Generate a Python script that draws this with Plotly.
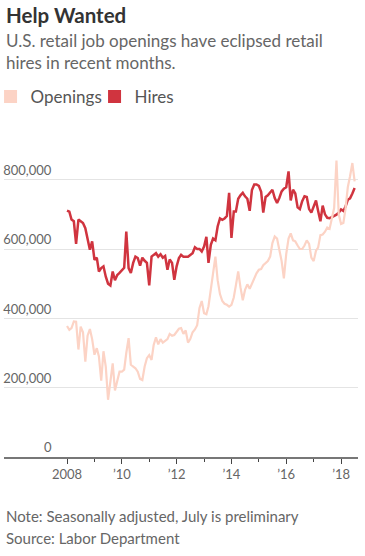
import pandas as pd
import plotly.graph_objects as go

# Monthly data, Jan 2008 - Jul 2018 (thousands)
start_month = "2008-01-01"

hires_k = [
    711, 708, 685, 680, 615, 685, 680, 675, 660, 630, 598, 622,
    569, 575, 535, 545, 550, 520, 500, 495, 535, 510, 525, 531,
    540, 546, 650, 545, 531, 560, 578, 574, 552, 575, 566, 560,
    495, 578, 583, 588, 578, 585, 575, 580, 540, 570, 560, 511,
    550, 574, 583, 578, 578, 578, 583, 588, 605, 600, 600, 593,
    607, 635, 560, 612, 630, 625, 665, 688, 684, 688, 695, 762,
    632, 708, 708, 745, 755, 762, 752, 745, 710, 770, 786, 786,
    782, 765, 705, 750, 755, 762, 771, 747, 733, 747, 766, 774,
    778, 824, 740, 771, 760, 720, 715, 738, 752, 750, 715, 705,
    720, 740, 710, 680, 725, 700, 690, 689, 692, 695, 699, 705,
    714, 710, 722, 742, 746, 760, 776,
]

openings_k = [
    378, 367, 372, 391, 390, 310, 376, 360, 275, 350, 369, 340,
    295, 314, 290, 220, 305, 260, 165, 220, 270, 192, 222, 246,
    246, 252, 300, 343, 266, 261, 256, 246, 225, 222, 261, 285,
    294, 280, 323, 345, 325, 340, 330, 335, 340, 355, 350, 352,
    360, 370, 372, 355, 365, 330, 340, 360, 368, 380, 430, 450,
    415, 412, 435, 480, 521, 578, 510, 470, 450, 442, 439, 434,
    439, 460, 495, 535, 490, 452, 482, 498, 485, 500, 518, 530,
    540, 542, 553, 558, 565, 578, 617, 636, 630, 598, 565, 515,
    585, 630, 645, 625, 622, 610, 600, 600, 610, 625, 615, 575,
    565, 595, 604, 640, 642, 650, 662, 658, 685, 718, 855, 700,
    672, 675, 715, 778, 810, 848, 795,
]

tick_years = ["2008-01-01", "2010-01-01", "2012-01-01", "2014-01-01", "2016-01-01", "2018-01-01"]
tick_labels = ["2008", "\u201910", "\u201912", "\u201914", "\u201916", "\u201918"]
minor_years = ["2009-01-01", "2011-01-01", "2013-01-01", "2015-01-01", "2017-01-01"]
y_ticks = [0, 200000, 400000, 600000, 800000]
y_labels = ["0", "200,000", "400,000", "600,000", "800,000"]

dates = pd.date_range(start_month, periods=len(hires_k), freq="MS")
hires = [v * 1000 for v in hires_k]
openings = [v * 1000 for v in openings_k]

RED = "#d0343f"
PINK = "#fcd3c5"
FONT = "Lato"

fig = go.Figure()
fig.add_trace(go.Scatter(x=dates, y=hires, mode="lines", name="Hires",
                         line=dict(color=RED, width=2.5), showlegend=False,
                         yaxis="y"))
fig.add_trace(go.Scatter(x=dates, y=openings, mode="lines", name="Openings",
                         line=dict(color=PINK, width=2.2), showlegend=False,
                         yaxis="y2"))
# legend swatches
fig.add_trace(go.Scatter(x=[None], y=[None], mode="markers", name="Openings",
                         marker=dict(symbol="square", size=13, color=PINK),
                         showlegend=True))
fig.add_trace(go.Scatter(x=[None], y=[None], mode="markers", name="Hires",
                         marker=dict(symbol="square", size=13, color=RED),
                         showlegend=True))

H_TOP, H_BOT = 145, 457
ph = H_BOT - H_TOP


def py(p):
    return (H_BOT - p) / ph


fig.update_layout(
    width=365, height=556, autosize=False,
    margin=dict(l=4, r=7, t=H_TOP, b=556 - H_BOT, pad=0, autoexpand=False),
    paper_bgcolor="white", plot_bgcolor="white",
    font=dict(family=FONT, color="#666", size=13),
    xaxis=dict(type="date", range=["2005-09-13", "2018-08-15"],
               tickmode="array", tickvals=tick_years, ticktext=tick_labels,
               ticks="outside", ticklen=5, tickwidth=1, tickcolor="#444",
               showline=True, linecolor="#777", linewidth=1.5,
               showgrid=False, zeroline=False,
               tickfont=dict(size=13, color="#666"),
               minor=dict(tickvals=minor_years, ticks="outside", ticklen=3,
                          tickwidth=1, tickcolor="#444", showgrid=False)),
    yaxis=dict(range=[0, 900000], tickmode="array", tickvals=y_ticks,
               showticklabels=False, showgrid=True, gridcolor="#e4e4e4",
               gridwidth=1, zeroline=False, showline=False, ticks=""),
    yaxis2=dict(range=[0, 900000], overlaying="y", anchor="free", position=0.134,
                side="left", tickmode="array", tickvals=y_ticks, ticktext=y_labels,
                ticklabelposition="outside top", showgrid=False, zeroline=False,
                showline=False, ticks="", tickfont=dict(size=13, color="#666")),
    legend=dict(orientation="h", x=-0.038, xanchor="left", y=py(97), yanchor="middle",
                font=dict(size=17, color="#555"), itemwidth=30,
                entrywidth=59, entrywidthmode="pixels",
                bgcolor="rgba(0,0,0,0)"),
    showlegend=True,
)

fig.add_annotation(text="<b>Help Wanted</b>", xref="paper", yref="paper",
                   x=0, y=py(15), xanchor="left", yanchor="middle", showarrow=False,
                   font=dict(size=20.5, color="#333", family=FONT))
fig.add_annotation(text="U.S. retail job openings have eclipsed retail", xref="paper", yref="paper",
                   x=0, y=py(40), xanchor="left", yanchor="middle", showarrow=False,
                   font=dict(size=17, color="#666", family=FONT))
fig.add_annotation(text="hires in recent months.", xref="paper", yref="paper",
                   x=0, y=py(62), xanchor="left", yanchor="middle", showarrow=False,
                   font=dict(size=17, color="#666", family=FONT))
fig.add_annotation(text="Note: Seasonally adjusted, July is preliminary", xref="paper", yref="paper",
                   x=0, y=py(516), xanchor="left", yanchor="middle", showarrow=False,
                   font=dict(size=15, color="#666", family=FONT))
fig.add_annotation(text="Source: Labor Department", xref="paper", yref="paper",
                   x=0, y=py(538), xanchor="left", yanchor="middle", showarrow=False,
                   font=dict(size=15, color="#666", family=FONT))

fig.write_html("out.html")
